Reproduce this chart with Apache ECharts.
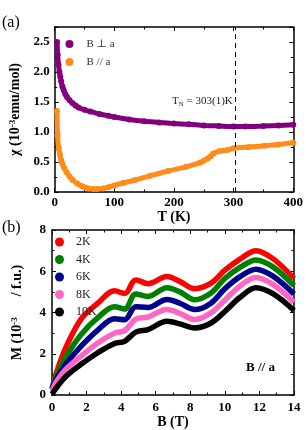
<!DOCTYPE html>
<html><head><meta charset="utf-8">
<script src="https://cdn.jsdelivr.net/npm/echarts@6/dist/echarts.min.js"></script>
<style>html,body{margin:0;padding:0;background:#fff}#c{width:306px;height:430px}</style>
</head><body><div id="c"></div>
<script>
// Panel (a): susceptibility vs temperature
const tPerp = [4, 5, 6.5, 8, 9.5, 11, 13, 15, 18, 21, 25, 30, 35, 40, 50, 60, 75, 90, 100, 125, 150, 175, 200, 225, 250, 275, 300, 320, 350, 375, 400];
const chiPerp = [2.5, 2.29, 2.12, 2.0, 1.92, 1.84, 1.76, 1.7, 1.63, 1.58, 1.53, 1.48, 1.44, 1.41, 1.37, 1.34, 1.3, 1.27, 1.25, 1.21, 1.18, 1.16, 1.14, 1.13, 1.11, 1.1, 1.09, 1.09, 1.1, 1.11, 1.12];
const tPar = [4, 5, 7, 9, 11, 13, 16, 20, 25, 30, 38, 45, 50, 57, 65, 72, 81, 90, 100, 115, 135, 160, 190, 220, 244, 250, 257, 262, 266, 276, 290, 300, 325, 352, 375, 400];
const chiPar = [1.35, 0.94, 0.72, 0.62, 0.53, 0.47, 0.4, 0.33, 0.26, 0.2, 0.14, 0.1, 0.08, 0.06, 0.05, 0.05, 0.06, 0.08, 0.11, 0.15, 0.2, 0.27, 0.35, 0.42, 0.49, 0.52, 0.56, 0.6, 0.64, 0.68, 0.7, 0.73, 0.75, 0.77, 0.79, 0.82];
const tN = 303;
const legendA = ['B \u22A5 a', 'B // a'];

// Panel (b): magnetization vs field
const field = [0, 0.3, 0.8, 1.7, 2.65, 3.62, 4.2, 4.85, 5.55, 6.65, 7.4, 8.25, 9.2, 10, 10.9, 11.8, 12.8, 14];
const m2K  = [0.3, 1.2, 2.3, 3.7, 4.45, 5.05, 4.92, 5.58, 5.4, 5.74, 5.5, 5.15, 5.42, 6.05, 6.6, 7.0, 6.6, 5.65];
const m4K  = [0.3, 1.0, 1.85, 2.95, 3.75, 4.28, 4.17, 4.9, 4.78, 5.2, 5.0, 4.62, 4.95, 5.65, 6.2, 6.55, 6.2, 5.3];
const m6K  = [0.3, 0.85, 1.5, 2.38, 3.15, 3.7, 3.65, 4.28, 4.24, 4.63, 4.45, 4.14, 4.45, 5.15, 5.75, 6.1, 5.75, 4.9];
const m8K  = [0.2, 0.7, 1.25, 1.9, 2.52, 3.0, 3.12, 3.68, 3.78, 4.14, 3.95, 3.66, 3.98, 4.6, 5.3, 5.7, 5.35, 4.5];
const m10K = [0.05, 0.4, 0.9, 1.5, 2.05, 2.5, 2.6, 3.05, 3.17, 3.57, 3.45, 3.25, 3.49, 4.05, 4.75, 5.2, 4.9, 4.1];
const tempLabels = ['2K', '4K', '6K', '8K', '10K'];

const xTicksA = [0, 100, 200, 300, 400];
const yTicksA = [0.0, 0.5, 1.0, 1.5, 2.0, 2.5];
const xTicksB = [0, 2, 4, 6, 8, 10, 12, 14];
const yTicksB = [0, 2, 4, 6, 8];

const F = '"Liberation Serif", "DejaVu Serif", serif';
const zip = (a, b) => a.map((v, i) => [v, b[i]]);

function axisBase(extra) {
  return Object.assign({
    axisLine: {show: true, onZero: false, lineStyle: {color: '#000', width: 1.5}},
    axisTick: {show: true, inside: true, length: 4, lineStyle: {color: '#000', width: 1}},
    minorTick: {show: true, splitNumber: 2, length: 2.5, lineStyle: {color: '#000', width: 1}},
    splitLine: {show: false},
    axisLabel: {color: '#000', fontFamily: F, fontWeight: 'bold', fontSize: 13},
    nameTextStyle: {color: '#000', fontFamily: F, fontWeight: 'bold', fontSize: 14}
  }, extra);
}
function mirror(type, gridIndex, pos, min, max, interval) {
  return axisBase({type: 'value', gridIndex, position: pos, min, max, interval,
    axisLabel: {show: false}});
}

const colorsB = ['#FF0000', '#008000', '#00008B', '#FF66C4', '#000000'];
const dataB = [m2K, m4K, m6K, m8K, m10K];

const option = {
  animation: false,
  grid: [
    {left: 50, right: 10, top: 27, height: 165},
    {left: 52, right: 12, top: 230, height: 165}
  ],
  xAxis: [
    axisBase({type: 'value', gridIndex: 0, position: 'bottom', min: xTicksA[0], max: xTicksA[xTicksA.length-1], interval: 100,
      name: 'T (K)', nameLocation: 'middle', nameGap: 12,
      axisLabel: {color: '#000', fontFamily: F, fontWeight: 'bold', fontSize: 13, margin: 4}}),
    mirror('x', 0, 'top', 0, 400, 100),
    axisBase({type: 'value', gridIndex: 1, position: 'bottom', min: xTicksB[0], max: xTicksB[xTicksB.length-1], interval: 2,
      name: 'B (T)', nameLocation: 'middle', nameGap: 17,
      axisLabel: {color: '#000', fontFamily: F, fontWeight: 'bold', fontSize: 13, margin: 6}}),
    mirror('x', 1, 'top', 0, 14, 2)
  ],
  yAxis: [
    axisBase({type: 'value', gridIndex: 0, position: 'left', min: 0, max: 2.75, interval: 0.5,
      name: '{a|\u03C7 (10}{s|-3}{a|emu/mol)}', nameLocation: 'middle', nameGap: 26,
      nameTextStyle: {rich: {
        a: {color: '#000', fontFamily: F, fontWeight: 'bold', fontSize: 14},
        s: {color: '#000', fontFamily: F, fontWeight: 'bold', fontSize: 9, verticalAlign: 'top', padding: [0, 0, 6, 0]}}},
      axisLabel: {color: '#000', fontFamily: F, fontWeight: 'bold', fontSize: 13, margin: 5, showMaxLabel: false,
        formatter: v => v.toFixed(1)}}),
    mirror('y', 0, 'right', 0, 2.75, 0.5),
    axisBase({type: 'value', gridIndex: 1, position: 'left', min: yTicksB[0], max: yTicksB[yTicksB.length-1], interval: 2,
      name: '{a|M (10}{s|-3}{a|      / f.u.)}', nameLocation: 'middle', nameGap: 27,
      nameTextStyle: {rich: {
        a: {color: '#000', fontFamily: F, fontWeight: 'bold', fontSize: 14},
        s: {color: '#000', fontFamily: F, fontWeight: 'bold', fontSize: 9, verticalAlign: 'top', padding: [0, 0, 6, 0]}}},
      axisLabel: {color: '#000', fontFamily: F, fontWeight: 'bold', fontSize: 13, margin: 6}}),
    mirror('y', 1, 'right', 0, 8, 2)
  ],
  legend: [
    {data: legendA, orient: 'vertical', left: 65.5, top: 38.5, padding: 0, itemGap: 7,
      itemWidth: 8, itemHeight: 8, icon: 'circle',
      textStyle: {fontFamily: F, fontSize: 11, color: '#333', padding: [0, 0, 0, 8]}},
    {data: tempLabels, orient: 'vertical', left: 55, top: 236, padding: 0, itemGap: 5.5,
      itemWidth: 9, itemHeight: 9, icon: 'circle',
      textStyle: {fontFamily: F, fontSize: 12, color: '#222', padding: [0, 0, 0, 7]}}
  ],
  series: [
    {name: legendA[0], type: 'line', xAxisIndex: 0, yAxisIndex: 0, data: zip(tPerp, chiPerp),
      smooth: 0.3, symbol: 'circle', symbolSize: 6, showAllSymbol: true, color: '#800080',
      lineStyle: {width: 5, color: '#800080'}, itemStyle: {color: '#800080'}},
    {name: legendA[1], type: 'line', xAxisIndex: 0, yAxisIndex: 0, data: zip(tPar, chiPar),
      smooth: 0.3, symbol: 'circle', symbolSize: 6, showAllSymbol: true, color: '#FF8C1A',
      lineStyle: {width: 5, color: '#FF8C1A'}, itemStyle: {color: '#FF8C1A'},
      markLine: {silent: true, symbol: 'none', label: {show: false},
        lineStyle: {color: '#000', type: [5, 4], width: 1}, data: [{xAxis: tN}]}},
    ...dataB.map((d, i) => ({
      name: tempLabels[i], type: 'line', xAxisIndex: 2, yAxisIndex: 2, data: zip(field, d),
      smooth: 0.35, symbol: 'circle', symbolSize: 0.1, showSymbol: false, color: colorsB[i],
      lineStyle: {width: 5.5, color: colorsB[i]}, itemStyle: {color: colorsB[i]}
    }))
  ],
  graphic: [
    {type: 'text', left: 2, top: 15, style: {text: '(a)', font: '16px ' + F, fill: '#000'}},
    {type: 'text', left: 2, top: 220, style: {text: '(b)', font: '16px ' + F, fill: '#000'}},
    {type: 'text', left: 246, top: 361, style: {text: 'B // a', font: 'bold 13px ' + F, fill: '#000'}},
    {type: 'text', left: 172, top: 96, style: {
      text: '{a|T}{s|N}{a| = 303(1)K}',
      rich: {a: {fontFamily: F, fontSize: 11, fill: '#222'}, s: {fontFamily: F, fontSize: 7, fill: '#222', padding: [6, 0, 0, 0]}}}}
  ]
};
const chart = echarts.init(document.getElementById('c'));
chart.setOption(option);
</script></body></html>
